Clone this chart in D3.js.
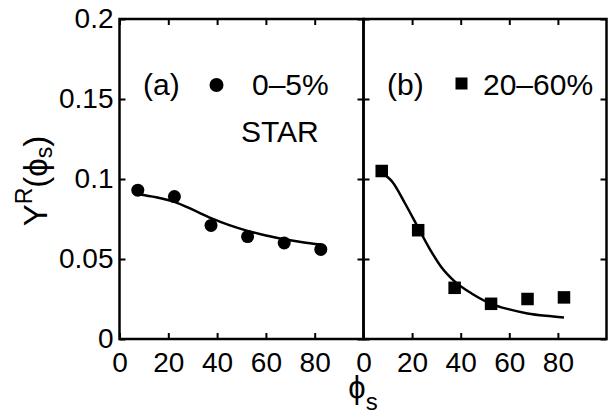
<!DOCTYPE html>
<html>
<head>
<meta charset="utf-8">
<script src="https://cdn.jsdelivr.net/npm/d3@7"></script>
<style>
  html, body { margin: 0; padding: 0; background: #fff; }
  svg { display: block; }
  text { font-family: "Liberation Sans", Arial, Helvetica, sans-serif; fill: #000; }
</style>
</head>
<body>
<svg id="chart" width="608" height="412"></svg>
<script>
// ---------- data ----------
const phiS = [7.5, 22.5, 37.5, 52.5, 67.5, 82.5];
const yCentral = [0.093, 0.089, 0.071, 0.064, 0.060, 0.056];      // (a) 0-5%
const yPeripheral = [0.105, 0.068, 0.032, 0.022, 0.025, 0.026];   // (b) 20-60%

const curveXL = [7.5, 15, 22.5, 30, 37.5, 45, 52.5, 60, 67.5, 75, 82.5];
const curveYL = [0.0905, 0.0886, 0.0857, 0.0808, 0.0756, 0.0712, 0.0676, 0.0647, 0.0624, 0.0605, 0.0590];
const curveXR = [7.5, 12, 17, 22, 27, 32, 37.5, 45, 52.5, 60, 67.5, 75, 82.5];
const curveYR = [0.104, 0.098, 0.085, 0.071, 0.057, 0.045, 0.036, 0.028, 0.022, 0.0185, 0.016, 0.0145, 0.0135];

const xTickValues = [0, 20, 40, 60, 80];
const yTickValues = [0, 0.05, 0.1, 0.15, 0.2];
const yTickLabels = ["0", "0.05", "0.1", "0.15", "0.2"];

// ---------- layout ----------
const svg = d3.select("#chart");
const yS = d3.scaleLinear().domain([0, 0.2]).range([339, 19]);
const xL = d3.scaleLinear().domain([0, 100]).range([119.5, 363.5]);
const xR = d3.scaleLinear().domain([0, 100]).range([363.5, 606.5]);

const TICK_FS = 28, LEG_FS = 30;

function panel(x, showY) {
  const g = svg.append("g");
  const bottom = g.append("g").attr("transform", `translate(0,${yS(0)})`)
    .call(d3.axisBottom(x).tickValues(xTickValues).tickSize(-6).tickPadding(13));
  const top = g.append("g").attr("transform", `translate(0,${yS(0.2)})`)
    .call(d3.axisTop(x).tickValues(xTickValues).tickSize(-6).tickFormat(""));
  const left = g.append("g").attr("transform", `translate(${x(0)},0)`)
    .call(d3.axisLeft(yS).tickValues(yTickValues).tickSize(-6).tickPadding(6)
      .tickFormat((d, i) => showY ? yTickLabels[i] : ""));
  const right = g.append("g").attr("transform", `translate(${x(100)},0)`)
    .call(d3.axisRight(yS).tickValues(yTickValues).tickSize(-6).tickFormat(""));
  [bottom, top, left, right].forEach(a => {
    a.select(".domain").remove();
    a.attr("font-family", null).attr("font-size", null);
    a.selectAll("line").attr("stroke", "#000").attr("stroke-width", 2);
    a.selectAll("text").attr("font-size", TICK_FS);
  });
  g.append("rect").attr("x", x(0)).attr("y", yS(0.2))
    .attr("width", x(100) - x(0)).attr("height", yS(0) - yS(0.2))
    .attr("fill", "none").attr("stroke", "#000").attr("stroke-width", 2.5);
  return g;
}

const gL = panel(xL, true);
const gR = panel(xR, false);

// curves
const lineL = d3.line().x((d, i) => xL(curveXL[i])).y(d => yS(d)).curve(d3.curveMonotoneX);
const lineR = d3.line().x((d, i) => xR(curveXR[i])).y(d => yS(d)).curve(d3.curveMonotoneX);
svg.append("path").attr("d", lineL(curveYL)).attr("fill", "none").attr("stroke", "#000").attr("stroke-width", 2.5);
svg.append("path").attr("d", lineR(curveYR)).attr("fill", "none").attr("stroke", "#000").attr("stroke-width", 2.5);

// markers
svg.append("g").selectAll("circle").data(yCentral).join("circle")
  .attr("cx", (d, i) => xL(phiS[i])).attr("cy", d => yS(d)).attr("r", 6.5).attr("fill", "#000");
const SQ = 12.5;
svg.append("g").selectAll("rect").data(yPeripheral).join("rect")
  .attr("x", (d, i) => xR(phiS[i]) - SQ / 2).attr("y", d => yS(d) - SQ / 2)
  .attr("width", SQ).attr("height", SQ).attr("fill", "#000");

// legends / labels
svg.append("text").attr("x", 143).attr("y", 95).attr("font-size", LEG_FS).text("(a)");
svg.append("circle").attr("cx", 216.5).attr("cy", 85).attr("r", 7).attr("fill", "#000");
svg.append("text").attr("x", 252).attr("y", 95).attr("font-size", LEG_FS).text("0–5%");
svg.append("text").attr("x", 241).attr("y", 142).attr("font-size", LEG_FS).text("STAR");

svg.append("text").attr("x", 387).attr("y", 95).attr("font-size", LEG_FS).text("(b)");
svg.append("rect").attr("x", 455.5).attr("y", 77.5).attr("width", 12).attr("height", 12).attr("fill", "#000");
svg.append("text").attr("x", 483).attr("y", 95).attr("font-size", LEG_FS).text("20–60%");

// axis titles
const yt = svg.append("text").attr("transform", "translate(47,181) rotate(-90)")
  .attr("text-anchor", "middle").attr("font-size", 33);
yt.append("tspan").text("Y");
yt.append("tspan").attr("font-size", 23).attr("dy", -15).text("R");
yt.append("tspan").attr("dy", 15).text("(ϕ");
yt.append("tspan").attr("font-size", 23).attr("dy", 5).text("s");
yt.append("tspan").attr("dy", -5).text(")");

const xt = svg.append("text").attr("x", 363).attr("y", 398)
  .attr("text-anchor", "middle").attr("font-size", 31);
xt.append("tspan").text("ϕ");
xt.append("tspan").attr("font-size", 24).attr("dy", 12).text("s");
</script>
</body>
</html>
